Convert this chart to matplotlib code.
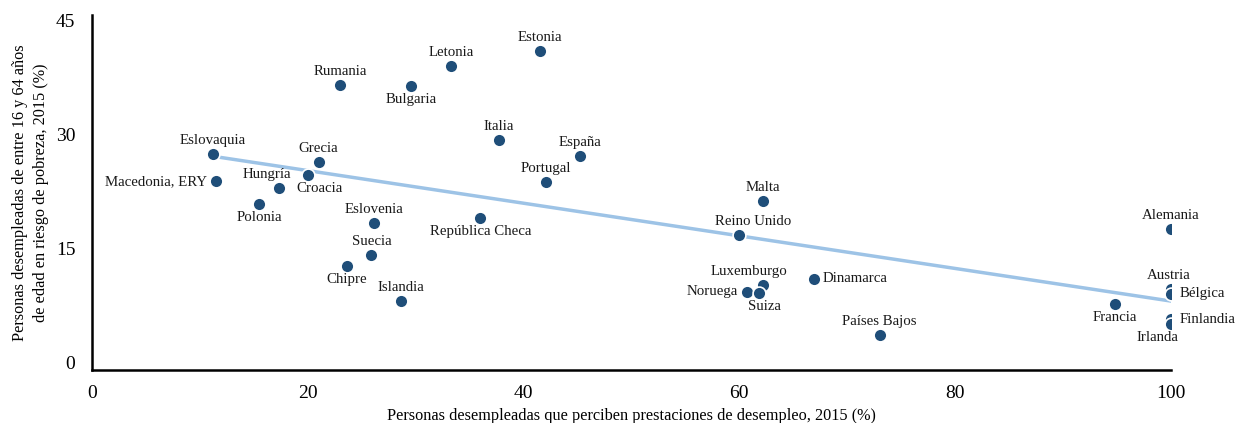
import numpy as np
import matplotlib.pyplot as plt

plt.rcParams['font.family'] = ['Liberation Serif', 'DejaVu Serif']

# datos
paises = ['Eslovaquia', 'Macedonia, ERY', 'Polonia', 'Hungría', 'Croacia', 'Grecia',
          'Rumania', 'Bulgaria', 'Letonia', 'Estonia', 'Italia', 'España', 'Portugal',
          'Eslovenia', 'Suecia', 'Chipre', 'Islandia', 'República Checa', 'Malta',
          'Reino Unido', 'Luxemburgo', 'Noruega', 'Suiza', 'Dinamarca', 'Países Bajos',
          'Francia', 'Alemania', 'Austria', 'Bélgica', 'Finlandia', 'Irlanda']
prestaciones = [11.2, 11.5, 15.5, 17.3, 20.0, 21.0, 23.0, 29.6, 33.3, 41.5, 37.7, 45.2, 42.1,
                26.1, 25.9, 23.6, 28.6, 36.0, 62.2, 60.0, 62.2, 60.7, 61.8, 66.9, 73.0,
                94.8, 100, 100, 100, 100, 100]
pobreza = [27.4, 23.8, 20.8, 23.0, 24.6, 26.3, 36.5, 36.4, 39.0, 41.0, 29.3, 27.2, 23.7,
           18.3, 14.1, 12.7, 8.1, 19.0, 21.2, 16.7, 10.2, 9.3, 9.1, 11.0, 3.6,
           7.7, 17.5, 9.6, 9.0, 5.7, 5.0]

# donde va cada etiqueta respecto al punto (lado, desplazamiento horizontal en px)
lado = {'Macedonia, ERY': ('left', 0), 'Polonia': ('below', 0), 'Hungría': ('above', -12),
        'Croacia': ('below', 12), 'Bulgaria': ('below', 0), 'Chipre': ('below', 0),
        'República Checa': ('below', 0), 'Reino Unido': ('above', 14),
        'Luxemburgo': ('above', -14), 'Noruega': ('left', 0), 'Suiza': ('below', 6),
        'Dinamarca': ('right', 0), 'Francia': ('below', 0), 'Austria': ('above', -2),
        'Bélgica': ('right', 0), 'Finlandia': ('right', 0), 'Irlanda': ('below', -13)}

fig = plt.figure(figsize=(12.39, 4.23), dpi=100)
ax = fig.add_axes([0.0743, 0.1253, 0.8707, 0.8392])

x = np.array(prestaciones)
y = np.array(pobreza)
fit = np.polyfit(x, y, 1)
xl = np.array([x.min(), x.max()])
ax.plot(xl, np.polyval(fit, xl), color='#9DC3E6', lw=2.5, zorder=1)

ax.scatter(x, y, s=85, color='#1F4E79', edgecolor='white', linewidth=1.2, zorder=3)

for p, xi, yi in zip(paises, prestaciones, pobreza):
    pos, dx = lado.get(p, ('above', 0))
    if pos == 'above':
        off, ha, va = (dx, 7), 'center', 'bottom'
    elif pos == 'below':
        off, ha, va = (dx, -7), 'center', 'top'
    elif pos == 'left':
        off, ha, va = (-9, 0), 'right', 'center'
    else:
        off, ha, va = (9, 0), 'left', 'center'
    ax.annotate(p, (xi, yi), xytext=off, textcoords='offset pixels',
                ha=ha, va=va, fontsize=10.7, color='#1a1a1a', zorder=4)

ax.set_xlim(0, 100)
ax.set_ylim(-1, 45.7)
ax.set_xticks([0, 20, 40, 60, 80, 100])
ax.set_yticks([0, 15, 30, 45])
ax.tick_params(length=0, labelsize=14)
ax.tick_params(axis='x', pad=11)
ax.tick_params(axis='y', pad=12)
for s in ['top', 'right']:
    ax.spines[s].set_visible(False)
for s in ['left', 'bottom']:
    ax.spines[s].set_linewidth(1.8)

ax.set_xlabel('Personas desempleadas que perciben prestaciones de desempleo, 2015 (%)',
              fontsize=11.7, labelpad=4)
ax.set_ylabel('Personas desempleadas de entre 16 y 64 años\nde edad en riesgo de pobreza, 2015 (%)',
              fontsize=11.7, labelpad=5, linespacing=1.45)

plt.savefig('out.png', dpi=100)
